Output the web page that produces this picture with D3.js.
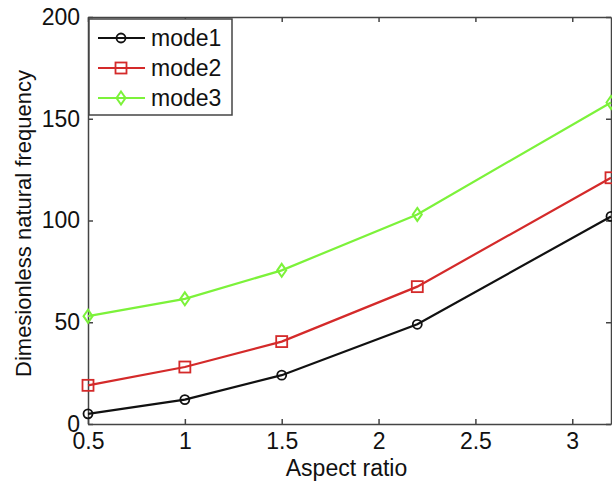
<!DOCTYPE html>
<html>
<head>
<meta charset="utf-8">
<script src="https://cdn.jsdelivr.net/npm/d3@7"></script>
<style>
  body { margin: 0; background: #fff; }
  svg text { font-family: "Liberation Sans", Arial, sans-serif; fill: #111; }
</style>
</head>
<body>
<div id="chart"></div>
<script>
const aspect = [0.5, 1, 1.5, 2.2, 3.2];
const mode1 = [5, 12, 24, 49, 102];
const mode2 = [19, 28, 40.5, 67.5, 121];
const mode3 = [53, 61.5, 75.5, 103, 158];
const xTicks = [0.5, 1, 1.5, 2, 2.5, 3];
const yTicks = [0, 50, 100, 150, 200];

const series = [
  { name: "mode1", values: mode1, color: "#111111", marker: "circle" },
  { name: "mode2", values: mode2, color: "#d42a2a", marker: "square" },
  { name: "mode3", values: mode3, color: "#7cf23a", marker: "diamond" }
];

const W = 612, H = 486;
const margin = { top: 17, right: 1, bottom: 62, left: 88 };
const w = W - margin.left - margin.right;
const h = H - margin.top - margin.bottom;

const svg = d3.select("#chart").append("svg")
  .attr("width", W).attr("height", H);
const g = svg.append("g")
  .attr("transform", `translate(${margin.left},${margin.top})`);

const x = d3.scaleLinear().domain([0.5, 3.2]).range([0, w]);
const y = d3.scaleLinear().domain([0, 200]).range([h, 0]);

// axes box with inward ticks
const axisStyle = sel => {
  sel.select(".domain").attr("stroke", "#444").attr("stroke-width", 1.5);
  sel.selectAll(".tick line").attr("stroke", "#444").attr("stroke-width", 1.5);
  sel.selectAll(".tick text").style("font-size", "23px");
};

g.append("g").attr("transform", `translate(0,${h})`)
  .call(d3.axisBottom(x).tickValues(xTicks).tickSize(-5).tickSizeOuter(0).tickPadding(9).tickFormat(d3.format("")))
  .call(axisStyle);
g.append("g").attr("transform", `translate(0,0)`)
  .call(d3.axisTop(x).tickValues(xTicks).tickSize(-5).tickSizeOuter(0).tickFormat(""))
  .call(axisStyle);
g.append("g")
  .call(d3.axisLeft(y).tickValues(yTicks).tickSize(-5).tickSizeOuter(0).tickPadding(8))
  .call(axisStyle);
g.append("g").attr("transform", `translate(${w},0)`)
  .call(d3.axisRight(y).tickValues(yTicks).tickSize(-5).tickSizeOuter(0).tickFormat(""))
  .call(axisStyle);

// lines and markers
const line = d3.line().x((d, i) => x(aspect[i])).y(d => y(d));

function drawMarker(sel, type, color) {
  if (type === "circle") {
    sel.append("circle").attr("r", 4.5)
      .attr("fill", "none").attr("stroke", color).attr("stroke-width", 1.8);
  } else if (type === "square") {
    sel.append("rect").attr("x", -5.5).attr("y", -5.5).attr("width", 11).attr("height", 11)
      .attr("fill", "none").attr("stroke", color).attr("stroke-width", 1.8);
  } else {
    sel.append("path").attr("d", "M0,-6.5L4.5,0L0,6.5L-4.5,0Z")
      .attr("fill", "none").attr("stroke", color).attr("stroke-width", 2);
  }
}

series.forEach(s => {
  g.append("path").datum(s.values)
    .attr("fill", "none").attr("stroke", s.color).attr("stroke-width", 2.2)
    .attr("d", line);
  g.selectAll(null).data(s.values).join("g")
    .attr("transform", (d, i) => `translate(${x(aspect[i])},${y(d)})`)
    .each(function () { drawMarker(d3.select(this), s.marker, s.color); });
});

// legend
const legend = g.append("g").attr("transform", "translate(1,2)");
legend.append("rect").attr("width", 143).attr("height", 96)
  .attr("fill", "#fff").attr("stroke", "#444").attr("stroke-width", 1.5);
series.forEach((s, i) => {
  const row = legend.append("g").attr("transform", `translate(0,${19 + i * 30})`);
  row.append("line").attr("x1", 9).attr("x2", 56)
    .attr("stroke", s.color).attr("stroke-width", 2.2);
  drawMarker(row.append("g").attr("transform", "translate(32,0)"), s.marker, s.color);
  row.append("text").attr("x", 62).attr("y", 8).style("font-size", "23px").text(s.name);
});

// axis titles
svg.append("text")
  .attr("x", margin.left + w / 2 - 3).attr("y", 476)
  .attr("text-anchor", "middle").style("font-size", "23px")
  .text("Aspect ratio");
svg.append("text")
  .attr("transform", `translate(31,${margin.top + h / 2 + 3}) rotate(-90)`)
  .attr("text-anchor", "middle").style("font-size", "22px")
  .text("Dimesionless natural frequency");
</script>
</body>
</html>
